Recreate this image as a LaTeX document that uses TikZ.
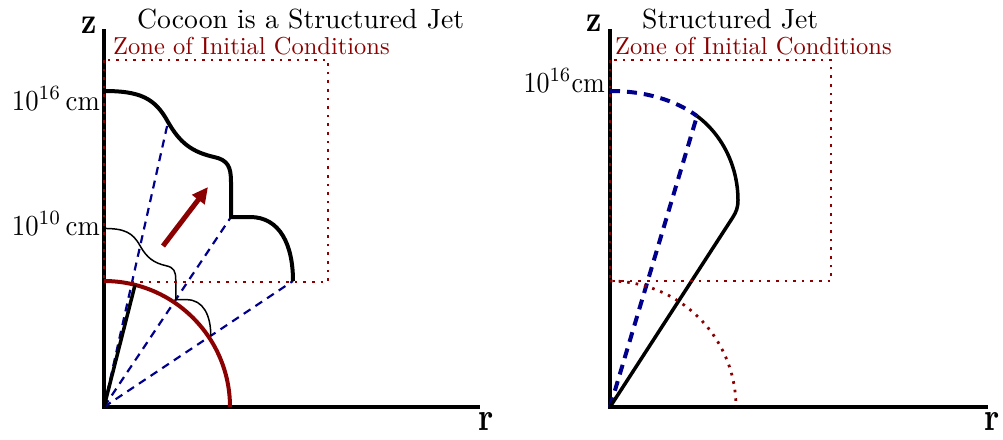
\documentclass[tikz,border=0pt]{standalone}
\usepackage{graphicx}
\usetikzlibrary{arrows.meta}
\definecolor{dred}{RGB}{139,0,0}
\definecolor{navyb}{RGB}{0,0,140}
\newcommand{\bigtext}[2]{\scalebox{#1}{#2}}
\newcommand{\axislabel}[1]{\scalebox{3.0}[3.7]{#1}}
\begin{document}
\begin{tikzpicture}[x=1pt,y=-1pt,
  axisline/.style={line width=4pt,line cap=butt},
  zonebox/.style={dred,line width=2.8pt,dash pattern=on 2.6pt off 6pt},
  raydash/.style={navyb,line width=2.2pt,dash pattern=on 8pt off 6pt},
  raydashthick/.style={navyb,line width=4pt,dash pattern=on 10pt off 7pt},
  shell/.style={black,line width=4pt},
  thinshell/.style={black,line width=1.5pt},
  titletext/.style={inner sep=0pt,font=\fontsize{10}{12}\selectfont},
  zonetext/.style={inner sep=0pt,text=dred,font=\fontsize{10}{12}\selectfont},
  ticktext/.style={inner sep=0pt,font=\fontsize{10}{12}\selectfont},
  axistext/.style={inner sep=0pt,font=\fontsize{10}{12}\selectfont\bfseries}]
\useasboundingbox (0,0) rectangle (1003,439);

%%%%%%%%%%%%%%%% LEFT PANEL %%%%%%%%%%%%%%%%
\coordinate (Lo) at (104,407);
\coordinate (Lztop) at (104,29);
\coordinate (Lrend) at (480,407);
\draw[axisline] (Lztop) -- (Lo) -- (Lrend);
\node[axistext,anchor=base] (Lz) at (89.5,33) {\axislabel{z}};
\node[axistext,anchor=base] (Lr) at (486,430) {\scalebox{3.2}[4.0]{r}};

\node[titletext,anchor=base west] (Ltitle) at (137,28) {\bigtext{2.77}{Cocoon is a Structured Jet}};
\node[zonetext,anchor=base west] (Lzone) at (113,54) {\bigtext{2.45}{Zone of Initial Conditions}};
\node[ticktext,anchor=base east] (L16) at (100,110) {\scalebox{2.67}[2.9]{10$^{16}$\,cm}};
\node[ticktext,anchor=base east] (L10) at (100,235) {\scalebox{2.67}[2.9]{10$^{10}$\,cm}};

% rays
\coordinate (LA) at (168,122);
\coordinate (LB) at (231,217);
\coordinate (LC) at (293,281);
\draw[raydash] (Lo) -- (LA);
\draw[raydash] (Lo) -- (LB);
\draw[raydash] (Lo) -- (LC);

% big outer shell
\draw[shell,line join=round] (104,91) .. controls (140,91) and (155,98) .. (LA)
  .. controls (180,143) and (192,152) .. (214,157)
  .. controls (228,160) and (231,167) .. (231,182) -- (LB) -- (250,217)
  .. controls (280,217) and (293,245) .. (LC);

% inner thin shell (scaled copy)
\begin{scope}[shift={(104,407)},scale=0.565]
\draw[thinshell,line join=round] (0,-316) .. controls (36,-316) and (51,-309) .. (64,-285)
  .. controls (76,-264) and (88,-255) .. (110,-250)
  .. controls (124,-247) and (127,-240) .. (127,-225) -- (127,-190) -- (146,-190)
  .. controls (176,-190) and (189,-162) .. (189,-126);
\end{scope}

% red sphere
\draw[dred,line width=4pt] (104,281) arc[start angle=-90,end angle=0,radius=126];
\coordinate (Lsp) at (135,285);
\draw[black,line width=3.5pt] (Lo) -- (Lsp);

% arrow
\coordinate (Larrs) at (163,246);
\coordinate (Larre) at (208,187);
\draw[dred,line width=5pt,-{Triangle[length=16pt,width=15pt]}] (Larrs) -- (Larre);

% zone box
\draw[zonebox] (104,60) rectangle (328,282);

%%%%%%%%%%%%%%%% RIGHT PANEL %%%%%%%%%%%%%%%%
\coordinate (Ro) at (610,407);
\coordinate (Rztop) at (610,29);
\coordinate (Rrend) at (988,407);
\draw[axisline] (Rztop) -- (Ro) -- (Rrend);
\node[axistext,anchor=base] (Rz) at (594.5,31) {\axislabel{z}};
\node[axistext,anchor=base] (Rr) at (992,430) {\scalebox{3.2}[4.0]{r}};

\node[titletext,anchor=base west] (Rtitle) at (642,28) {\bigtext{2.77}{Structured Jet}};
\node[zonetext,anchor=base west] (Rzone) at (615,54) {\bigtext{2.45}{Zone of Initial Conditions}};
\node[ticktext,anchor=base east] (R16) at (605,92) {\scalebox{2.6}[2.9]{10$^{\scriptstyle 16}$cm}};

\coordinate (RA) at (697,116);
\draw[raydashthick] (610,91) .. controls (645,91) and (675,100) .. (RA);
\draw[raydashthick] (Ro) -- (RA);
\draw[shell,line width=3.5pt,line join=round] (RA) .. controls (725,137) and (738,170) .. (738,200)
  .. controls (738,208) and (736,212) .. (733,217) -- (Ro);

\draw[zonebox] (610,281) arc[start angle=-90,end angle=0,radius=126];
\draw[zonebox] (610,60) rectangle (831,281);
\end{tikzpicture}
\end{document}
